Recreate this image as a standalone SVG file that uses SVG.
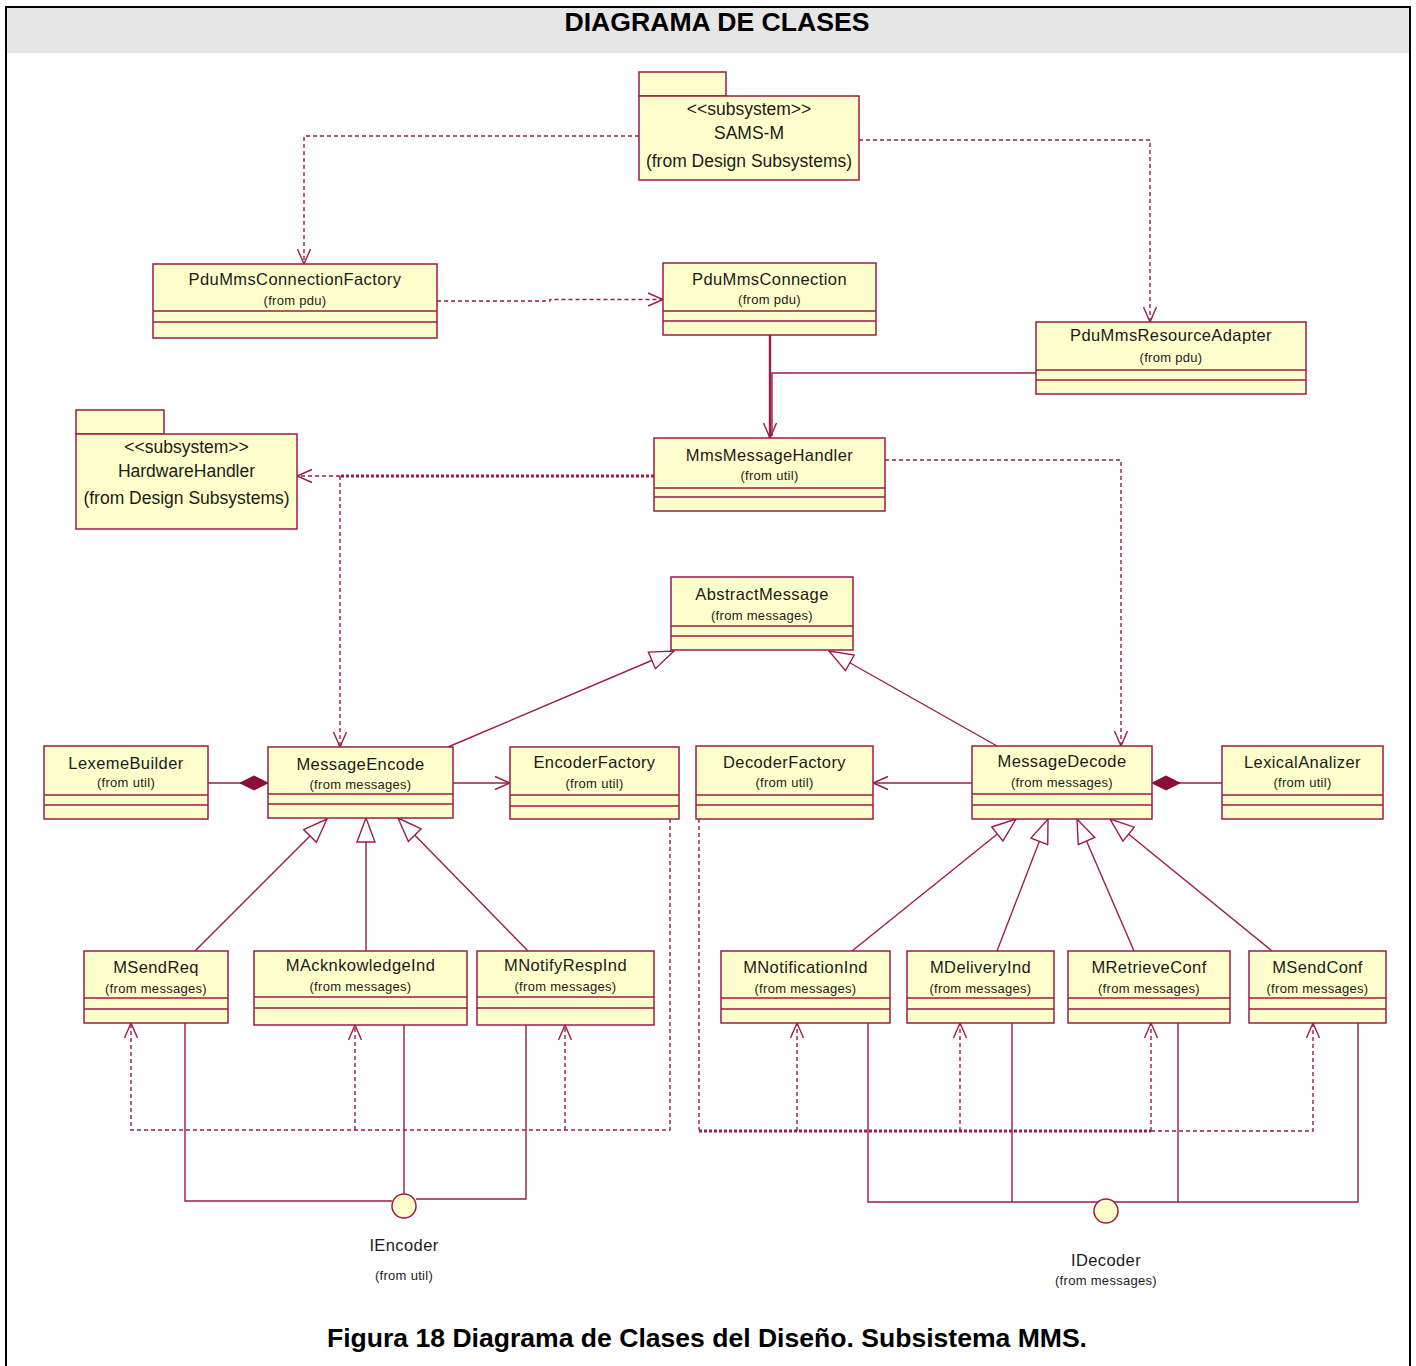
<svg xmlns="http://www.w3.org/2000/svg" width="1416" height="1366" viewBox="0 0 1416 1366">
  <defs>
    <style>
      .frame{fill:#ffffff;stroke:#000000;stroke-width:2}
      .band{fill:#e6e6e6}
      .title{font-family:"Liberation Sans",Arial,sans-serif;font-weight:bold;font-size:26px;fill:#000000;text-anchor:middle}
      .box{fill:#ffffcc;stroke:#9c1c48;stroke-width:1.5}
      .sep{fill:none;stroke:#9c1c48;stroke-width:1.5}
      .nm{font-family:"Liberation Sans",Arial,sans-serif;font-size:16.5px;letter-spacing:0.4px;fill:#1a1a1a;text-anchor:middle}
      .fr{font-family:"Liberation Sans",Arial,sans-serif;font-size:13px;letter-spacing:0.3px;fill:#1a1a1a;text-anchor:middle}
      .pk{font-family:"Liberation Sans",Arial,sans-serif;font-size:17.5px;fill:#1a1a1a;text-anchor:middle}
      .ln{fill:none;stroke:#9c1c48;stroke-width:1.4}
      .dash{stroke-dasharray:4 3}
      .heavy{stroke-width:3;stroke-dasharray:3 2}
      .thick{stroke-width:2.4}
      .dep{marker-end:url(#open)}
      .gen{marker-end:url(#tri)}
      .comp{marker-end:url(#dia)}
      .iface{fill:#ffffcc;stroke:#9c1c48;stroke-width:1.5}
    </style>
    <!-- open V arrowhead for dependencies and navigable associations -->
    <marker id="open" markerUnits="userSpaceOnUse" viewBox="0 0 18 16" refX="16" refY="8" markerWidth="18" markerHeight="16" orient="auto">
      <path d="M1,1.5 L16,8 L1,14.5" fill="none" stroke="#9c1c48" stroke-width="1.4"/>
    </marker>
    <!-- hollow triangle for generalization -->
    <marker id="tri" markerUnits="userSpaceOnUse" viewBox="0 0 26 20" refX="25" refY="10" markerWidth="26" markerHeight="20" orient="auto">
      <path d="M1,1 L25,10 L1,19 Z" fill="#ffffff" stroke="#9c1c48" stroke-width="1.4"/>
    </marker>
    <!-- filled diamond for composition -->
    <marker id="dia" markerUnits="userSpaceOnUse" viewBox="0 0 30 16" refX="29" refY="8" markerWidth="30" markerHeight="16" orient="auto">
      <path d="M1,8 L15,1 L29,8 L15,15 Z" fill="#8a0f38" stroke="#8a0f38" stroke-width="1"/>
    </marker>
  </defs>

  <!-- page frame and header band -->
  <rect class="frame" x="6" y="7" width="1404" height="1372"/>
  <rect class="band" x="7" y="8" width="1402" height="45"/>
  <text class="title" x="717" y="31" textLength="305" lengthAdjust="spacingAndGlyphs">DIAGRAMA DE CLASES</text>

  <!-- connectors -->
  <g id="connectors">
    <!-- dependencies from the SAMS-M subsystem -->
    <path class="ln dash dep" d="M639,136 H304 V264"/>
    <path class="ln dash dep" d="M859,140 H1150 V322"/>
    <!-- factory to connection -->
    <path class="ln dash dep" d="M437,301 H550 V299.5 H663"/>
    <!-- associations into MmsMessageHandler -->
    <path class="ln thick dep" d="M770,335 V438"/>
    <path class="ln" d="M1036,373 H772 V436"/>
    <!-- MmsMessageHandler to HardwareHandler and MessageEncode -->
    <path class="ln heavy" d="M654,476 H340"/>
    <path class="ln dash dep" d="M340,476 H297"/>
    <path class="ln dash dep" d="M340,476 V747"/>
    <!-- MmsMessageHandler to MessageDecode -->
    <path class="ln dash dep" d="M885,460 H1121 V746"/>
    <!-- generalizations to AbstractMessage -->
    <path class="ln gen" d="M448,747 L674,651"/>
    <path class="ln gen" d="M997,746 L829,651"/>
    <!-- compositions -->
    <path class="ln comp" d="M208,783 H268"/>
    <path class="ln comp" d="M1222,783 H1152"/>
    <!-- navigable associations to factories -->
    <path class="ln dep" d="M453,783 H510"/>
    <path class="ln dep" d="M972,783 H873"/>
    <!-- generalizations to MessageEncode -->
    <path class="ln gen" d="M195,951 L327,819"/>
    <path class="ln gen" d="M366,951 V818"/>
    <path class="ln gen" d="M528,951 L398,818"/>
    <!-- generalizations to MessageDecode -->
    <path class="ln gen" d="M852,951 L1016,819"/>
    <path class="ln gen" d="M997,951 L1048,819"/>
    <path class="ln gen" d="M1134,951 L1077,819"/>
    <path class="ln gen" d="M1272,951 L1110,819"/>
    <!-- EncoderFactory dependencies -->
    <path class="ln dash dep" d="M670,819 V1130 H131 V1023"/>
    <path class="ln dash dep" d="M355,1130 V1025"/>
    <path class="ln dash dep" d="M565,1130 V1025"/>
    <!-- DecoderFactory dependencies -->
    <path class="ln dash" d="M699,819 V1130"/>
    <path class="ln heavy" d="M699,1131 H1151"/>
    <path class="ln dash dep" d="M1151,1131 H1313 V1023"/>
    <path class="ln dash dep" d="M797,1131 V1023"/>
    <path class="ln dash dep" d="M960,1131 V1023"/>
    <path class="ln dash dep" d="M1151,1131 V1023"/>
    <!-- realizations of IEncoder -->
    <path class="ln" d="M185,1023 V1201 H392"/>
    <path class="ln" d="M404,1025 V1194"/>
    <path class="ln" d="M526,1025 V1199 H416"/>
    <!-- realizations of IDecoder -->
    <path class="ln" d="M868,1023 V1202 H1358 V1023"/>
    <path class="ln" d="M1012,1023 V1202"/>
    <path class="ln" d="M1178,1023 V1202"/>
  </g>

  <!-- subsystem packages -->
  <g id="SAMS-M">
    <rect class="box" x="639" y="72" width="87" height="24"/>
    <rect class="box" x="639" y="96" width="220" height="84"/>
    <text class="pk" x="749" y="115">&lt;&lt;subsystem&gt;&gt;</text>
    <text class="pk" x="749" y="139">SAMS-M</text>
    <text class="pk" x="749" y="167">(from Design Subsystems)</text>
  </g>
  <g id="HardwareHandler">
    <rect class="box" x="76" y="410" width="88" height="24"/>
    <rect class="box" x="76" y="434" width="221" height="95"/>
    <text class="pk" x="186.5" y="453">&lt;&lt;subsystem&gt;&gt;</text>
    <text class="pk" x="186.5" y="477">HardwareHandler</text>
    <text class="pk" x="186.5" y="504">(from Design Subsystems)</text>
  </g>

  <!-- classes -->
  <g id="PduMmsConnectionFactory">
    <rect class="box" x="153" y="264" width="284" height="74"/>
    <path class="sep" d="M153,311 H437 M153,322 H437"/>
    <text class="nm" x="295" y="285">PduMmsConnectionFactory</text>
    <text class="fr" x="295" y="305">(from pdu)</text>
  </g>
  <g id="PduMmsConnection">
    <rect class="box" x="663" y="263" width="213" height="72"/>
    <path class="sep" d="M663,311 H876 M663,321 H876"/>
    <text class="nm" x="769.5" y="285">PduMmsConnection</text>
    <text class="fr" x="769.5" y="304">(from pdu)</text>
  </g>
  <g id="PduMmsResourceAdapter">
    <rect class="box" x="1036" y="322" width="270" height="72"/>
    <path class="sep" d="M1036,370 H1306 M1036,380 H1306"/>
    <text class="nm" x="1171" y="341">PduMmsResourceAdapter</text>
    <text class="fr" x="1171" y="362">(from pdu)</text>
  </g>
  <g id="MmsMessageHandler">
    <rect class="box" x="654" y="438" width="231" height="73"/>
    <path class="sep" d="M654,488 H885 M654,497 H885"/>
    <text class="nm" x="769.5" y="461">MmsMessageHandler</text>
    <text class="fr" x="769.5" y="480">(from util)</text>
  </g>
  <g id="AbstractMessage">
    <rect class="box" x="671" y="577" width="182" height="73"/>
    <path class="sep" d="M671,626 H853 M671,636 H853"/>
    <text class="nm" x="762" y="600">AbstractMessage</text>
    <text class="fr" x="762" y="620">(from messages)</text>
  </g>
  <g id="LexemeBuilder">
    <rect class="box" x="44" y="746" width="164" height="73"/>
    <path class="sep" d="M44,795 H208 M44,805 H208"/>
    <text class="nm" x="126" y="769">LexemeBuilder</text>
    <text class="fr" x="126" y="787">(from util)</text>
  </g>
  <g id="MessageEncode">
    <rect class="box" x="268" y="747" width="185" height="71"/>
    <path class="sep" d="M268,794 H453 M268,804 H453"/>
    <text class="nm" x="360.5" y="770">MessageEncode</text>
    <text class="fr" x="360.5" y="789">(from messages)</text>
  </g>
  <g id="EncoderFactory">
    <rect class="box" x="510" y="747" width="169" height="72"/>
    <path class="sep" d="M510,795 H679 M510,806 H679"/>
    <text class="nm" x="594.5" y="768">EncoderFactory</text>
    <text class="fr" x="594.5" y="788">(from util)</text>
  </g>
  <g id="DecoderFactory">
    <rect class="box" x="696" y="746" width="177" height="73"/>
    <path class="sep" d="M696,795 H873 M696,805 H873"/>
    <text class="nm" x="784.5" y="768">DecoderFactory</text>
    <text class="fr" x="784.5" y="787">(from util)</text>
  </g>
  <g id="MessageDecode">
    <rect class="box" x="972" y="746" width="180" height="73"/>
    <path class="sep" d="M972,794 H1152 M972,805 H1152"/>
    <text class="nm" x="1062" y="767">MessageDecode</text>
    <text class="fr" x="1062" y="787">(from messages)</text>
  </g>
  <g id="LexicalAnalizer">
    <rect class="box" x="1222" y="746" width="161" height="73"/>
    <path class="sep" d="M1222,795 H1383 M1222,805 H1383"/>
    <text class="nm" x="1302.5" y="768">LexicalAnalizer</text>
    <text class="fr" x="1302.5" y="787">(from util)</text>
  </g>

  <!-- message classes -->
  <g id="MSendReq">
    <rect class="box" x="84" y="951" width="144" height="72"/>
    <path class="sep" d="M84,998 H228 M84,1009 H228"/>
    <text class="nm" x="156" y="973">MSendReq</text>
    <text class="fr" x="156" y="993">(from messages)</text>
  </g>
  <g id="MAcknkowledgeInd">
    <rect class="box" x="254" y="951" width="213" height="74"/>
    <path class="sep" d="M254,997 H467 M254,1008 H467"/>
    <text class="nm" x="360.5" y="971">MAcknkowledgeInd</text>
    <text class="fr" x="360.5" y="991">(from messages)</text>
  </g>
  <g id="MNotifyRespInd">
    <rect class="box" x="477" y="951" width="177" height="74"/>
    <path class="sep" d="M477,997 H654 M477,1008 H654"/>
    <text class="nm" x="565.5" y="971">MNotifyRespInd</text>
    <text class="fr" x="565.5" y="991">(from messages)</text>
  </g>
  <g id="MNotificationInd">
    <rect class="box" x="721" y="951" width="169" height="72"/>
    <path class="sep" d="M721,998 H890 M721,1009 H890"/>
    <text class="nm" x="805.5" y="973">MNotificationInd</text>
    <text class="fr" x="805.5" y="993">(from messages)</text>
  </g>
  <g id="MDeliveryInd">
    <rect class="box" x="907" y="951" width="147" height="72"/>
    <path class="sep" d="M907,998 H1054 M907,1009 H1054"/>
    <text class="nm" x="980.5" y="973">MDeliveryInd</text>
    <text class="fr" x="980.5" y="993">(from messages)</text>
  </g>
  <g id="MRetrieveConf">
    <rect class="box" x="1068" y="951" width="162" height="72"/>
    <path class="sep" d="M1068,998 H1230 M1068,1009 H1230"/>
    <text class="nm" x="1149" y="973">MRetrieveConf</text>
    <text class="fr" x="1149" y="993">(from messages)</text>
  </g>
  <g id="MSendConf">
    <rect class="box" x="1249" y="951" width="137" height="72"/>
    <path class="sep" d="M1249,998 H1386 M1249,1009 H1386"/>
    <text class="nm" x="1317.5" y="973">MSendConf</text>
    <text class="fr" x="1317.5" y="993">(from messages)</text>
  </g>

  <!-- interfaces -->
  <g id="IEncoder">
    <circle class="iface" cx="404" cy="1206" r="12"/>
    <text class="nm" x="404" y="1251">IEncoder</text>
    <text class="fr" x="404" y="1280">(from util)</text>
  </g>
  <g id="IDecoder">
    <circle class="iface" cx="1106" cy="1211" r="12"/>
    <text class="nm" x="1106" y="1266">IDecoder</text>
    <text class="fr" x="1106" y="1285">(from messages)</text>
  </g>

  <text class="title" x="707" y="1347" textLength="760" lengthAdjust="spacingAndGlyphs">Figura 18 Diagrama de Clases del Diseño. Subsistema MMS.</text>
</svg>
